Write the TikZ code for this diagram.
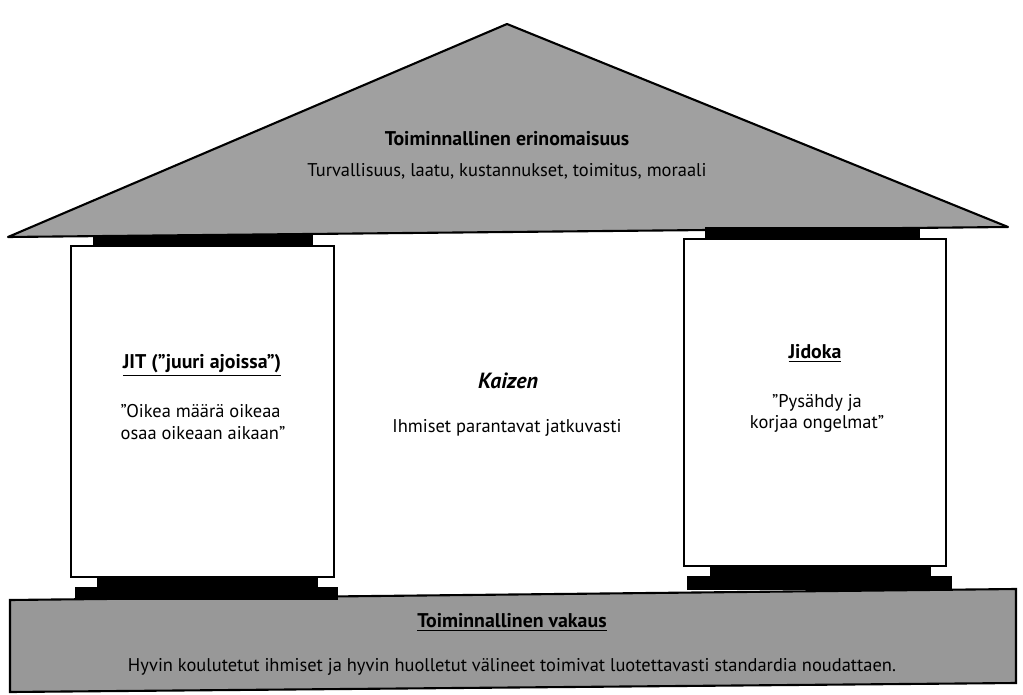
\documentclass[tikz,border=0pt]{standalone}
\usepackage{fontspec}
\setmainfont{PT Sans}
\usepackage{xcolor}
\definecolor{roofgray}{RGB}{160,160,160}
\definecolor{basegray}{RGB}{152,152,152}
\usepackage{tikz}
\usetikzlibrary{positioning}

\begin{document}
\begin{tikzpicture}[x=0.02cm, y=-0.02cm, font=\fontsize{10.5}{12}\selectfont]
    % Define styles
    \tikzstyle{roof} = [draw, line width=1.2pt, line join=round, fill=roofgray]
    \tikzstyle{plinth} = [draw, line width=1.2pt, fill=basegray]
    \tikzstyle{pillar} = [draw, line width=1.1pt, fill=white]
    \tikzstyle{capbar} = [fill=black]
    \tikzstyle{heading} = [font=\fontsize{11.3}{12}\selectfont\bfseries, inner sep=1pt]
    \tikzstyle{bodytext} = [inner sep=1pt]

    \useasboundingbox (0,0) rectangle (1023,695);
    \fill[white] (0,0) rectangle (1023,695);

    % Roof and base
    \draw[roof] (8,237) -- (507,24) -- (1008,227) -- cycle;
    \draw[plinth] (10,600) -- (1016,589) -- (1016,683) -- (10,692) -- cycle;

    % Left pillar
    \fill[capbar] (93,235) rectangle (313,246);
    \fill[capbar] (97,576) rectangle (318,588);
    \fill[capbar] (75,587) rectangle (338,600);
    \draw[pillar] (71,246) rectangle (334,577);

    % Right pillar
    \fill[capbar] (705,227) rectangle (920,239);
    \fill[capbar] (710,565) rectangle (931,577);
    \fill[capbar] (687,576) rectangle (952,590);
    \draw[pillar] (684,239) rectangle (946,566);

    % Place nodes
    \node [heading] (excellence) at (507,139) {Toiminnallinen erinomaisuus};
    \node [bodytext] (goals) at (507,171) {Turvallisuus, laatu, kustannukset, toimitus, moraali};

    \node [heading] (jit) at (202,365) {\underline{JIT (”juuri ajoissa”)}};
    \node [bodytext, align=left] (jitnote) at (203,422) {”Oikea määrä oikeaa\\osaa oikeaan aikaan”};

    \node [heading, font=\fontsize{12.5}{12}\selectfont\bfseries\itshape] (kaizen) at (508,381) {Kaizen};
    \node [bodytext] (kaizennote) at (507,428) {Ihmiset parantavat jatkuvasti};

    \node [heading] (jidoka) at (815,353) {\underline{Jidoka}};
    \node [bodytext, align=center] (jidokanote) at (817,413) {”Pysähdy ja\\korjaa ongelmat”};

    \node [heading] (stability) at (512,622) {\underline{Toiminnallinen vakaus}};
    \node [bodytext] (stabilitynote) at (512,667) {Hyvin koulutetut ihmiset ja hyvin huolletut välineet toimivat luotettavasti standardia noudattaen.};
\end{tikzpicture}
\end{document}
